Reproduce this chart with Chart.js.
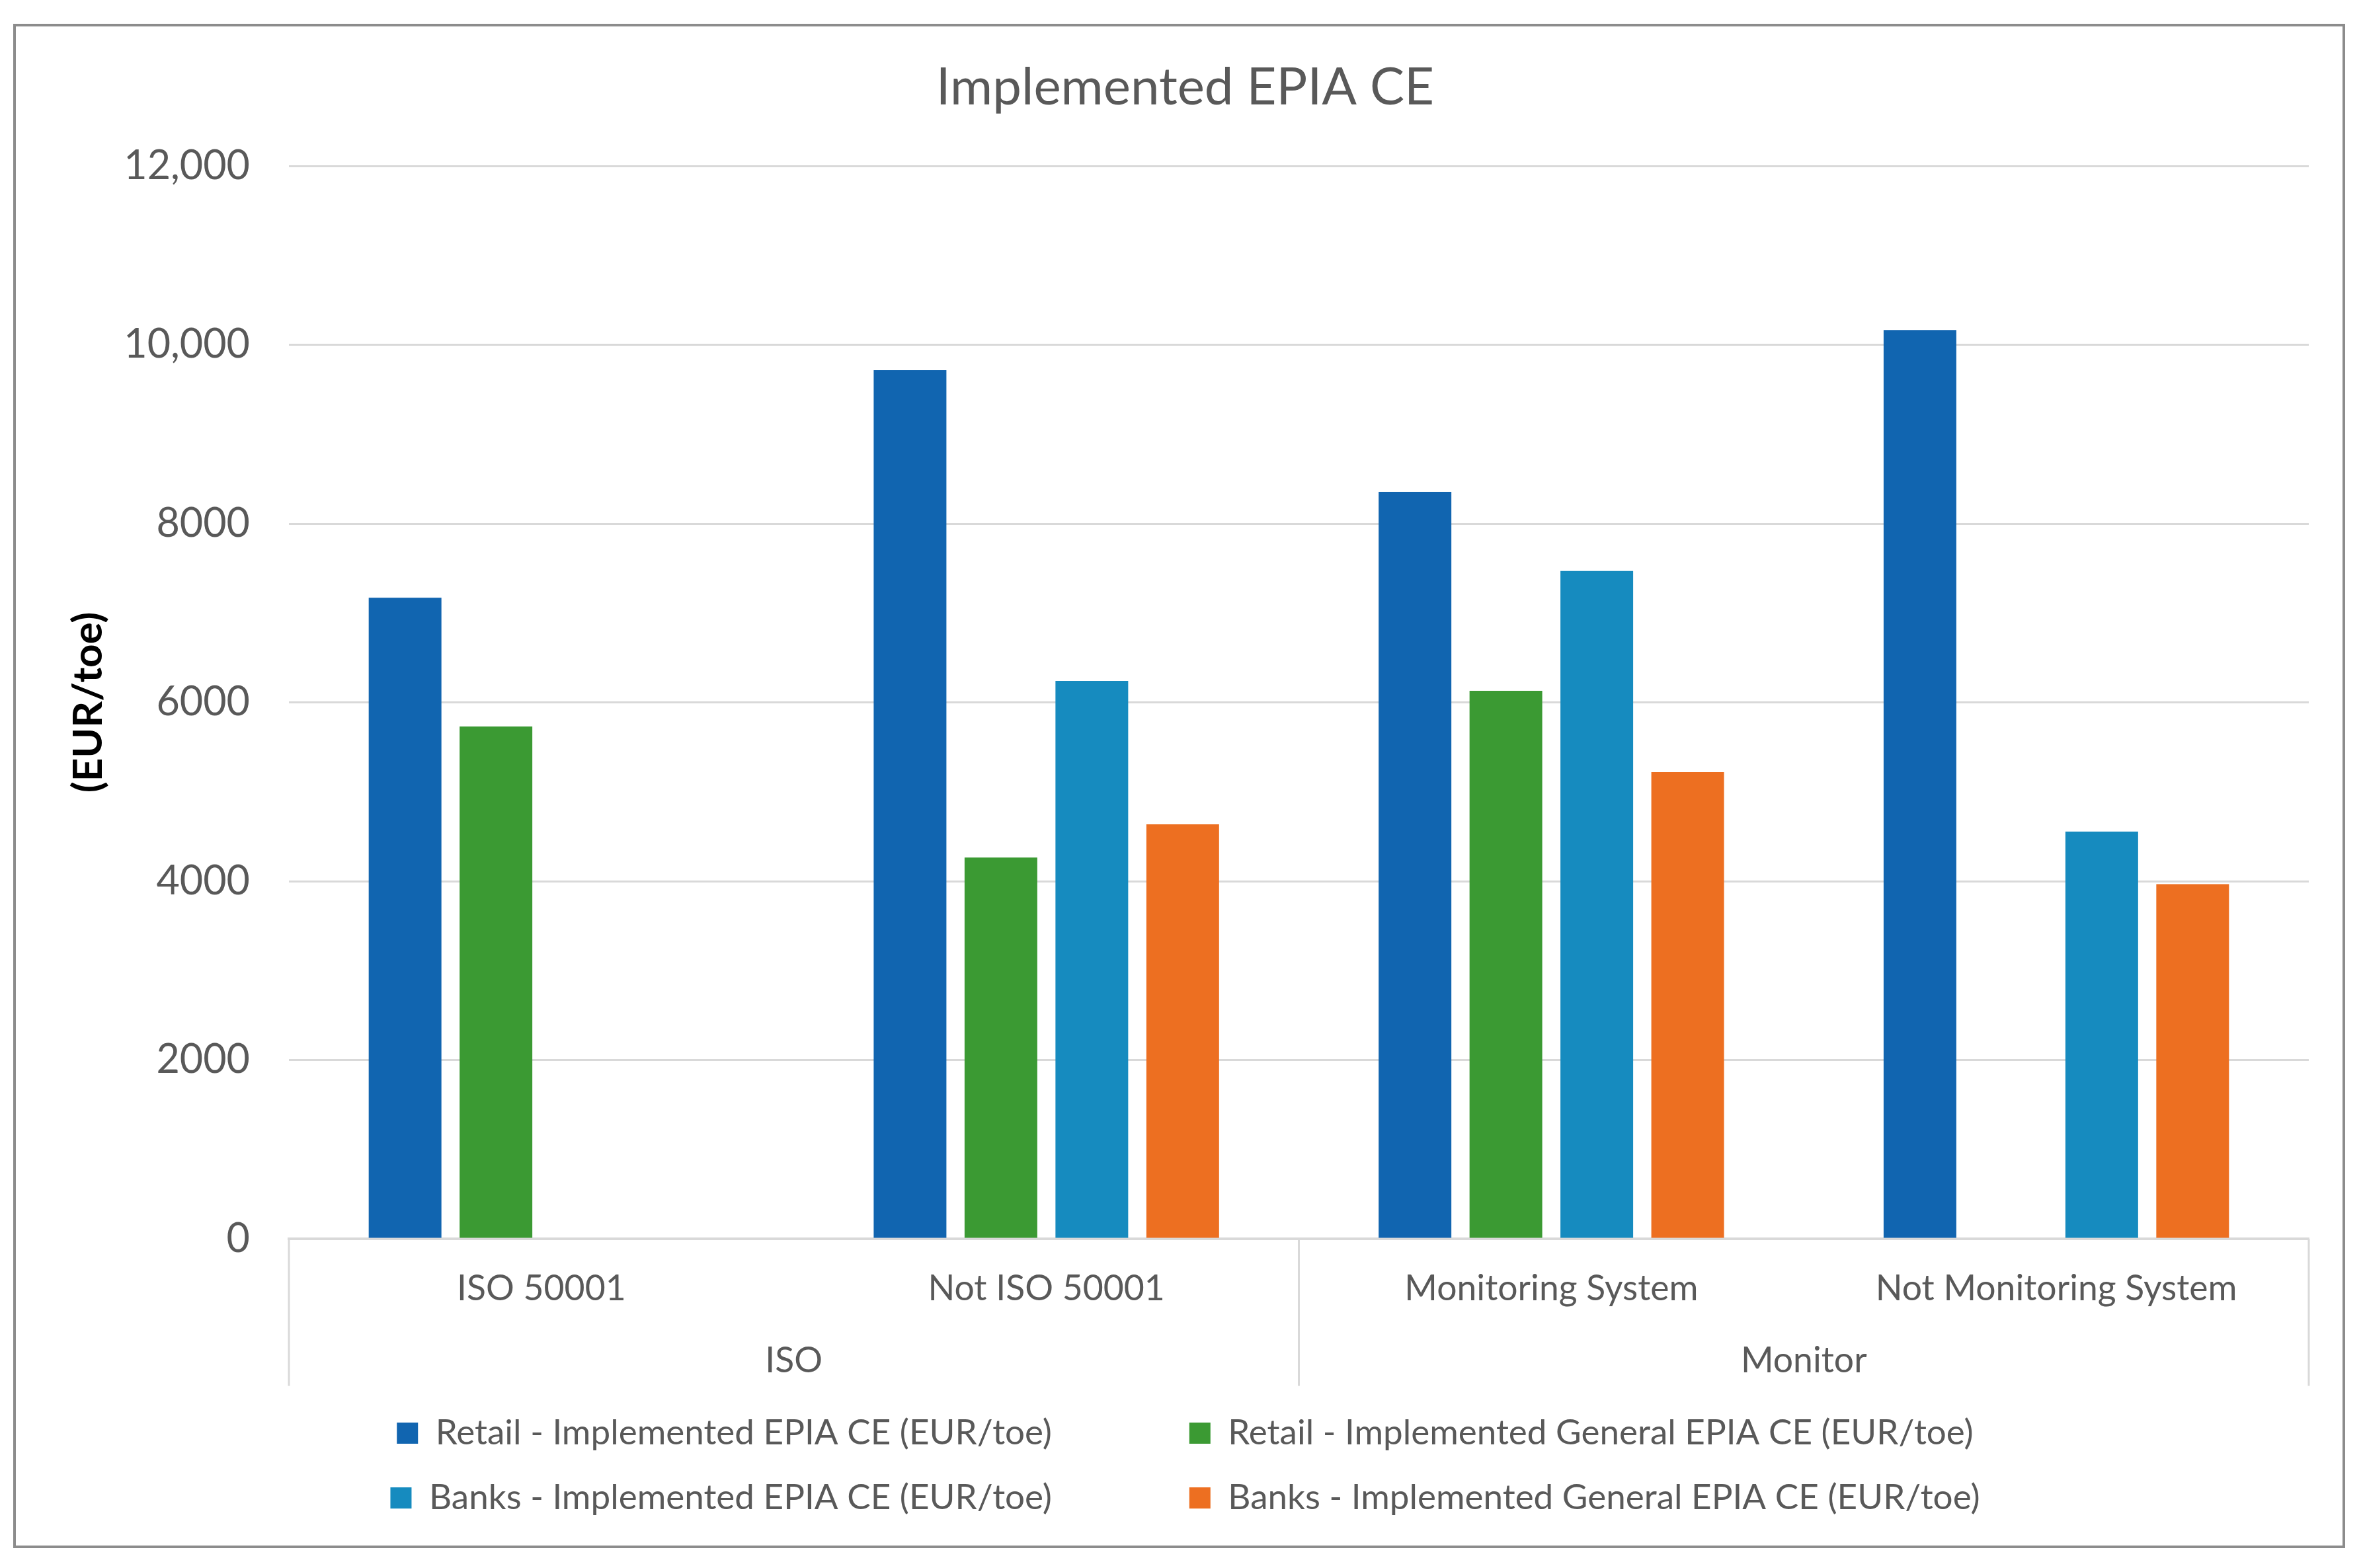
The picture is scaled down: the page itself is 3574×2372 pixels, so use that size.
<!DOCTYPE html>
<html>
<head>
<meta charset="utf-8">
<script src="https://cdn.jsdelivr.net/npm/chart.js@4/dist/chart.umd.min.js"></script>
<style>
html, body { margin: 0; padding: 0; background: #ffffff; }
#frame { position: absolute; left: 20px; top: 36px; width: 3519px; height: 2298px; border: 4px solid #8c8c8c; background: #ffffff; }
canvas { display: block; }
</style>
</head>
<body>
<div id="frame"><canvas id="c" width="3519" height="2298"></canvas></div>
<script>
// ---- data ----
const categories = ['ISO 50001', 'Not ISO 50001', 'Monitoring System', 'Not Monitoring System'];
const groupLabels = ['ISO', 'Monitor'];
const groupSizes = [2, 2];
const seriesNames = [
  'Retail - Implemented EPIA CE (EUR/toe)',
  'Retail - Implemented General EPIA CE (EUR/toe)',
  'Banks - Implemented EPIA CE (EUR/toe)',
  'Banks - Implemented General EPIA CE (EUR/toe)'
];
const retailImplemented = [7170, 9715, 8355, 10165];
const retailGeneral = [5730, 4265, 6130, null];
const banksImplemented = [null, 6240, 7470, 4555];
const banksGeneral = [null, 4636, 5220, 3967];
const yTickValues = [0, 2000, 4000, 6000, 8000, 10000, 12000];
const yTickLabels = ['0', '2000', '4000', '6000', '8000', '10,000', '12,000'];

// ---- style ----
const FONT = 'Lato';
const colors = ['#1165b0', '#3b9a33', '#168bbf', '#ed6f21'];
const gridColor = '#d9d9d9';
const textGray = '#595959';

const groupSeparators = {
  id: 'groupSeparators',
  afterDraw(chart) {
    const x = chart.scales.x, g = chart.scales.x2, ctx = chart.ctx;
    const bounds = [x.left];
    let idx = 0;
    groupSizes.forEach((n, i) => {
      idx += n;
      if (i < groupSizes.length - 1) {
        bounds.push((x.getPixelForValue(idx - 1) + x.getPixelForValue(idx)) / 2);
      }
    });
    bounds.push(x.right);
    ctx.save();
    ctx.strokeStyle = gridColor;
    ctx.lineWidth = 3;
    bounds.forEach(px => {
      ctx.beginPath();
      ctx.moveTo(px, x.top);
      ctx.lineTo(px, g.bottom);
      ctx.stroke();
    });
    ctx.restore();
  }
};

const seriesData = [retailImplemented, retailGeneral, banksImplemented, banksGeneral];

new Chart(document.getElementById('c'), {
  type: 'bar',
  data: {
    labels: categories,
    datasets: seriesData.map((d, i) => ({
      label: seriesNames[i],
      data: d,
      backgroundColor: colors[i],
      borderWidth: 0,
      categoryPercentage: 0.72,
      barPercentage: 0.8
    }))
  },
  options: {
    responsive: false,
    devicePixelRatio: 1,
    animation: false,
    layout: { padding: { top: 10, left: 69, right: 51, bottom: 35.5 } },
    plugins: {
      title: {
        display: true,
        text: 'Implemented EPIA CE',
        color: textGray,
        font: { family: FONT, size: 78, weight: 'normal' },
        padding: { top: 36.2, bottom: 71.2 }
      },
      legend: {
        position: 'bottom',
        labels: {
          color: textGray,
          font: { family: FONT, size: 53 },
          boxWidth: 32,
          boxHeight: 32,
          padding: 45,
          generateLabels(chart) {
            const items = Chart.defaults.plugins.legend.labels.generateLabels(chart);
            items.forEach((it, i) => { if (i % 2 === 0) it.text = it.text + '            '; });
            return items;
          }
        }
      },
      tooltip: { enabled: false }
    },
    scales: {
      x: {
        type: 'category',
        position: 'bottom',
        weight: 0,
        grid: { display: false, drawTicks: false },
        border: { display: true, color: gridColor, width: 4 },
        ticks: { color: textGray, font: { family: FONT, size: 53.5 }, padding: 43.3, maxRotation: 0, autoSkip: false },
        afterFit(s) { s.height = 110; }
      },
      x2: {
        type: 'category',
        position: 'bottom',
        weight: 1,
        labels: groupLabels,
        offset: true,
        grid: { display: false, drawTicks: false },
        border: { display: false },
        ticks: { color: textGray, font: { family: FONT, size: 53.5 }, padding: 43, maxRotation: 0, autoSkip: false },
        afterFit(s) { s.height = 112.5; }
      },
      y: {
        min: 0,
        max: 12000,
        grid: { color: gridColor, lineWidth: 3, drawTicks: false },
        border: { display: false },
        ticks: {
          stepSize: 2000,
          color: textGray,
          padding: 59,
          font: { family: FONT, size: 61 },
          callback: (v) => { const k = yTickValues.indexOf(v); return k >= 0 ? yTickLabels[k] : ''; }
        },
        title: {
          display: true,
          text: '(EUR/toe)',
          color: '#000000',
          font: { family: FONT, size: 62, weight: 'bold' }
        },
        afterFit(s) { s.width = 344; }
      }
    }
  },
  plugins: [groupSeparators]
});
</script>
</body>
</html>
